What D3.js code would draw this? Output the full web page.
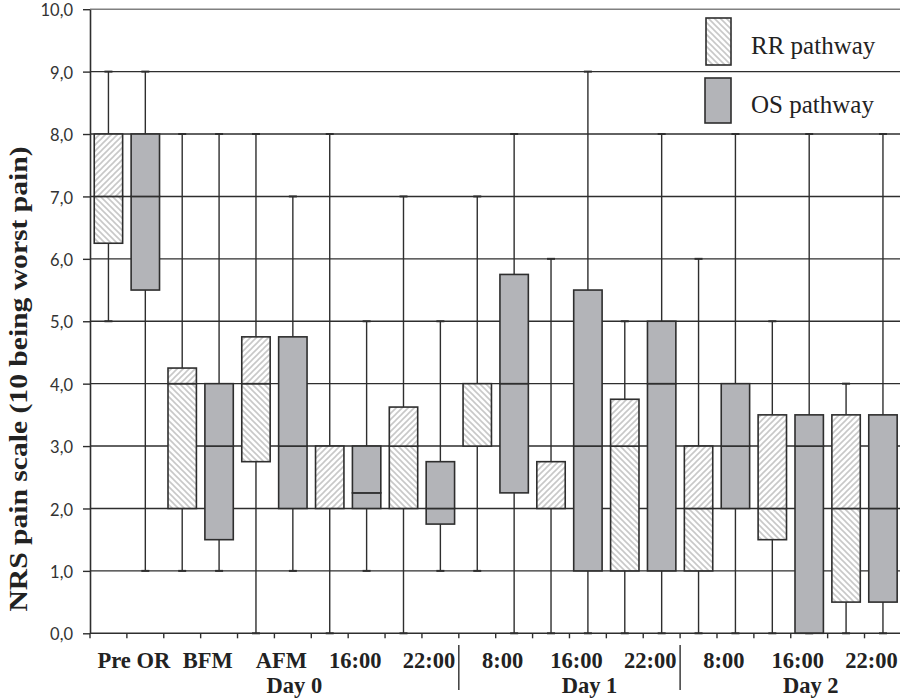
<!DOCTYPE html>
<html>
<head>
<meta charset="utf-8">
<script src="https://cdn.jsdelivr.net/npm/d3@7"></script>
<style>
  body { margin: 0; background: #fff; }
  svg { display: block; }
</style>
</head>
<body>
<svg id="chart" width="900" height="700"></svg>
<script>
// categories along the x axis, each with an RR and an OS box
const categories = ["Pre OR", "BFM", "AFM", "16:00", "22:00", "8:00", "16:00", "22:00", "8:00", "16:00", "22:00"];
const categoryDay = [0, 0, 0, 0, 0, 1, 1, 1, 2, 2, 2];
const dayNames = ["Day 0", "Day 1", "Day 2"];
const seriesNames = ["RR pathway", "OS pathway"];

// RR pathway box values
const rrMin    = [5,    1,    0,    0, 0,     1, 0,    0,    0, 0,   0];
const rrQ1     = [6.25, 2,    2.75, 2, 2,     3, 2,    1,    1, 1.5, 0.5];
const rrMedian = [7,    4,    4,    2, 3,     4, 2,    3,    2, 2,   2];
const rrQ3     = [8,    4.25, 4.75, 3, 3.625, 4, 2.75, 3.75, 3, 3.5, 3.5];
const rrMax    = [9,    8,    8,    8, 7,     7, 6,    5,    6, 5,   4];

// OS pathway box values
const osMin    = [1,   1,   1,    1,    1,    0,    0,   0, 0, 0,   0];
const osQ1     = [5.5, 1.5, 2,    2,    1.75, 2.25, 1,   1, 2, 0,   0.5];
const osMedian = [7,   3,   3,    2.25, 2,    4,    3,   4, 3, 3,   2];
const osQ3     = [8,   4,   4.75, 3,    2.75, 5.75, 5.5, 5, 4, 3.5, 3.5];
const osMax    = [9,   8,   7,    5,    5,    8,    9,   8, 8, 8,   8];

const yTickValues = [0, 1, 2, 3, 4, 5, 6, 7, 8, 9, 10];

const svg = d3.select("#chart");
const dark = "#2e2e2e";
const osFill = "#b3b4b8";

// hatch patterns: "up" = ///, "down" = \\\
const defs = svg.append("defs");
function hatch(id, d) {
    const p = defs.append("pattern")
        .attr("id", id)
        .attr("patternUnits", "userSpaceOnUse")
        .attr("width", 6).attr("height", 6);
    p.append("rect").attr("width", 6).attr("height", 6).attr("fill", "#fff");
    p.append("path").attr("d", d)
        .attr("stroke", "#c8c8c8").attr("stroke-width", 1.6);
}
hatch("hatchUp", "M0,6 L6,0 M-1,1 L1,-1 M5,7 L7,5");
hatch("hatchDown", "M0,0 L6,6 M-1,5 L1,7 M5,-1 L7,1");

// build one record per box
const boxes = [];
categories.forEach((c, i) => {
    boxes.push({ id: i + "-RR", series: "RR", cat: i,
        min: rrMin[i], q1: rrQ1[i], med: rrMedian[i], q3: rrQ3[i], max: rrMax[i] });
    boxes.push({ id: i + "-OS", series: "OS", cat: i,
        min: osMin[i], q1: osQ1[i], med: osMedian[i], q3: osQ3[i], max: osMax[i] });
});

const plotLeft = 90, plotRight = 901.4, plotTop = 9.2, plotBottom = 633.3;

const x = d3.scaleBand()
    .domain(boxes.map(d => d.id))
    .range([plotLeft, plotRight])
    .padding(0);

const y = d3.scaleLinear()
    .domain([0, 10])
    .range([plotBottom, plotTop]);

const boxW = x.bandwidth() * 0.77;
const cx = d => x(d.id) + x.bandwidth() / 2;

// horizontal gridlines
svg.append("g")
    .selectAll("line")
    .data(yTickValues.filter(v => v > 0))
    .enter()
    .append("line")
    .attr("x1", plotLeft).attr("x2", 900)
    .attr("y1", d => y(d)).attr("y2", d => y(d))
    .attr("stroke", d => d === 10 ? "#808080" : dark)
    .attr("stroke-width", 1.4);

// whiskers
const whisk = svg.append("g").attr("stroke", dark).attr("stroke-width", 1.4);
whisk.selectAll(".stem")
    .data(boxes)
    .enter()
    .append("line")
    .attr("x1", cx).attr("x2", cx)
    .attr("y1", d => y(d.min)).attr("y2", d => y(d.max));
whisk.selectAll(".capTop")
    .data(boxes)
    .enter()
    .append("line")
    .attr("x1", d => cx(d) - 4).attr("x2", d => cx(d) + 4)
    .attr("y1", d => y(d.max)).attr("y2", d => y(d.max))
    .attr("stroke-width", 2);
whisk.selectAll(".capBot")
    .data(boxes)
    .enter()
    .append("line")
    .attr("x1", d => cx(d) - 4).attr("x2", d => cx(d) + 4)
    .attr("y1", d => y(d.min)).attr("y2", d => y(d.min))
    .attr("stroke-width", 2);

// boxes: lower segment (q1 to median) and upper segment (median to q3)
const segs = [];
boxes.forEach(d => {
    segs.push({ box: d, lo: d.q1, hi: d.med, part: "lower" });
    segs.push({ box: d, lo: d.med, hi: d.q3, part: "upper" });
});

svg.append("g")
    .selectAll("rect")
    .data(segs.filter(s => s.hi > s.lo))
    .enter()
    .append("rect")
    .attr("x", s => cx(s.box) - boxW / 2)
    .attr("width", boxW)
    .attr("y", s => y(s.hi))
    .attr("height", s => y(s.lo) - y(s.hi))
    .attr("fill", s => s.box.series === "OS" ? osFill
        : (s.part === "upper" ? "url(#hatchUp)" : "url(#hatchDown)"))
    .attr("stroke", dark)
    .attr("stroke-width", 1.6);

// y axis
const yAxis = svg.append("g")
    .attr("transform", `translate(${plotLeft},0)`)
    .call(d3.axisLeft(y)
        .tickValues(yTickValues)
        .tickFormat(d => d3.format(".1f")(d).replace(".", ","))
        .tickSizeInner(7)
        .tickSizeOuter(0)
        .tickPadding(10));
yAxis.select(".domain").attr("stroke", dark).attr("stroke-width", 1.6);
yAxis.selectAll(".tick line").attr("stroke", dark).attr("stroke-width", 1.4);
yAxis.selectAll(".tick text")
    .attr("fill", "#333")
    .attr("dy", "0.4em")
    .style("font-family", "Lato, 'Open Sans', sans-serif")
    .style("font-size", "16.5px");

// x axis line and slot ticks
const xAxis = svg.append("g");
xAxis.append("line")
    .attr("x1", plotLeft).attr("x2", 900)
    .attr("y1", plotBottom).attr("y2", plotBottom)
    .attr("stroke", dark).attr("stroke-width", 1.6);
xAxis.selectAll(".slotTick")
    .data(boxes)
    .enter()
    .append("line")
    .attr("x1", d => x(d.id)).attr("x2", d => x(d.id))
    .attr("y1", plotBottom).attr("y2", plotBottom + 5)
    .attr("stroke", dark).attr("stroke-width", 1.4);

const serif = "'Liberation Serif', 'Times New Roman', serif";

// category labels (centred on the boundary between the RR and OS boxes)
svg.append("g")
    .selectAll("text")
    .data(categories)
    .enter()
    .append("text")
    .attr("x", (c, i) => x(i + "-OS") + 7)
    .attr("y", 668)
    .attr("text-anchor", "middle")
    .style("font-family", serif)
    .style("font-weight", "bold")
    .style("font-size", "22.5px")
    .attr("fill", "#222")
    .text(c => c);

// separators between days
const dayStarts = dayNames.map((n, k) => categoryDay.indexOf(k));
svg.append("g")
    .selectAll("line")
    .data(dayStarts.slice(1))
    .enter()
    .append("line")
    .attr("x1", i => x(i + "-RR")).attr("x2", i => x(i + "-RR"))
    .attr("y1", 645).attr("y2", 690)
    .attr("stroke", dark).attr("stroke-width", 1.4);

// day labels, under the middle category of each day
svg.append("g")
    .selectAll("text")
    .data(dayNames)
    .enter()
    .append("text")
    .attr("x", (n, k) => {
        const idx = categories.map((c, i) => i).filter(i => categoryDay[i] === k);
        const mid = idx[Math.floor(idx.length / 2)];
        return x(mid + "-OS") + 20;
    })
    .attr("y", 693)
    .attr("text-anchor", "middle")
    .style("font-family", serif)
    .style("font-weight", "bold")
    .style("font-size", "22.5px")
    .attr("fill", "#222")
    .text(n => n);

// y axis title
svg.append("text")
    .attr("transform", "translate(27,379) rotate(-90)")
    .attr("text-anchor", "middle")
    .attr("textLength", 465)
    .attr("lengthAdjust", "spacingAndGlyphs")
    .style("font-family", serif)
    .style("font-weight", "bold")
    .style("font-size", "25px")
    .attr("fill", "#222")
    .text("NRS pain scale (10 being worst pain)");

// legend
const legend = svg.append("g");
legend.append("rect")
    .attr("x", 706).attr("y", 18).attr("width", 25).attr("height", 47)
    .attr("fill", "url(#hatchDown)").attr("stroke", dark).attr("stroke-width", 1.6);
legend.append("rect")
    .attr("x", 705).attr("y", 78).attr("width", 26).attr("height", 45)
    .attr("fill", osFill).attr("stroke", dark).attr("stroke-width", 1.6);
legend.selectAll("text")
    .data(seriesNames)
    .enter()
    .append("text")
    .attr("x", 751)
    .attr("y", (d, i) => i === 0 ? 54 : 113)
    .style("font-family", serif)
    .style("font-size", "25px")
    .attr("fill", "#222")
    .text(d => d);
</script>
</body>
</html>
